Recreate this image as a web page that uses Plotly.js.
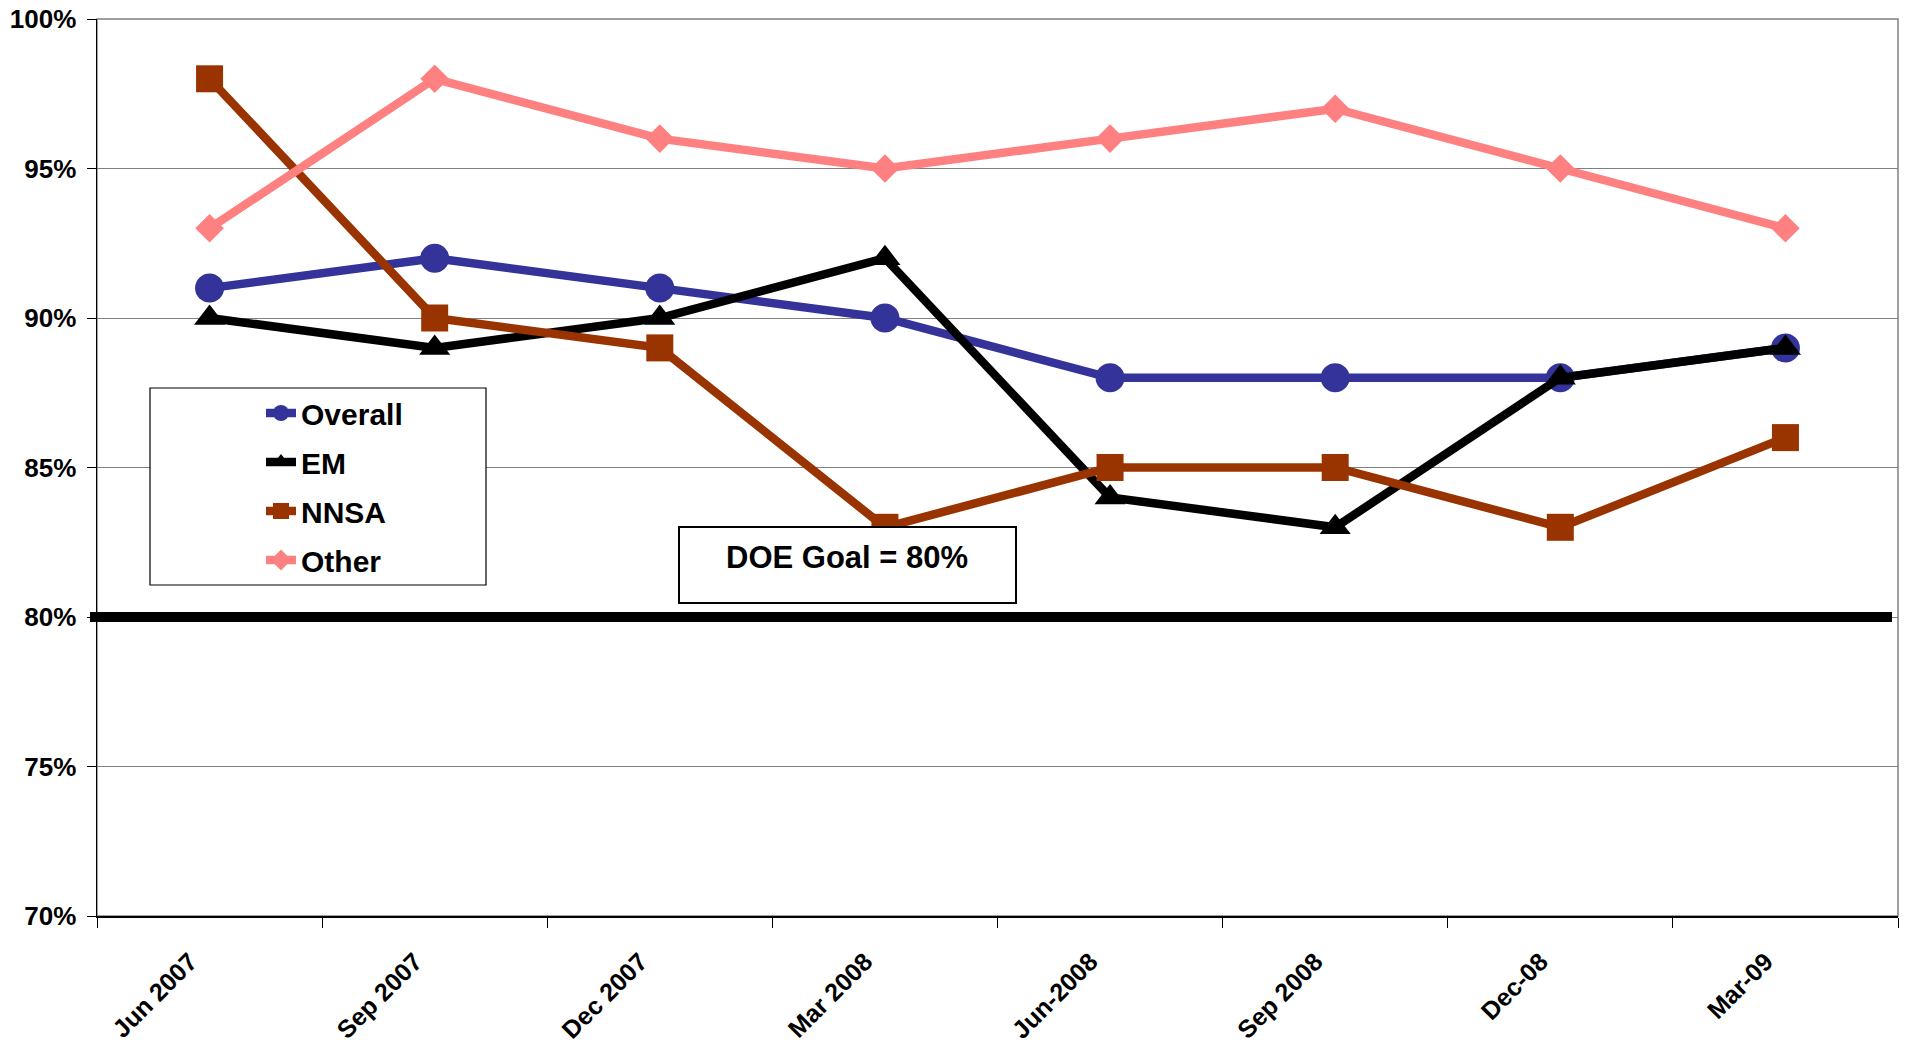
<!DOCTYPE html>
<html>
<head>
<meta charset="utf-8">
<script src="https://cdn.plot.ly/plotly-3.0.1.min.js"></script>
<style>html,body{margin:0;padding:0;background:#fff;}#chart{width:1905px;height:1043px;}</style>
</head>
<body>
<div id="chart"></div>
<script>
const categories = ["Jun 2007", "Sep 2007", "Dec 2007", "Mar 2008", "Jun-2008", "Sep 2008", "Dec-08", "Mar-09"];
const overall = [91, 92, 91, 90, 88, 88, 88, 89];
const em      = [90, 89, 90, 92, 84, 83, 88, 89];
const nnsa    = [98, 90, 89, 83, 85, 85, 83, 86];
const other   = [93, 98, 96, 95, 96, 97, 95, 93];
const goal = 80;
const yTicks = [70, 75, 80, 85, 90, 95, 100];

const FONT = "Liberation Sans, Arial, sans-serif";
const W = 1905, H = 1043;
const L = 97, R = 7, T = 19, B = 127;
const pw = W - L - R, ph = H - T - B;
const px = x => (x - L) / pw;
const py = y => (H - B - y) / ph;

function tr(name, y, color, symbol, size, group) {
  return {
    type: "scatter", mode: "lines+markers", name: name, x: categories, y: y,
    line: {color: color, width: 8.5},
    marker: {color: color, symbol: symbol, size: size},
    legendgroup: group
  };
}
const data = [
  tr("Overall", overall, "#333399", "circle", 29, "a"),
  tr("EM", em, "#000000", "triangle-up", 27, "b"),
  tr("NNSA", nnsa, "#993300", "square", 27, "c"),
  tr("Other", other, "#FF8080", "diamond", 22, "d")
];

const layout = {
  width: W, height: H,
  margin: {l: L, r: R, t: T, b: B, pad: 0},
  paper_bgcolor: "#fff", plot_bgcolor: "#fff",
  font: {family: FONT, color: "#000", weight: "bold"},
  showlegend: true,
  legend: {
    x: px(261), xanchor: "left", y: py(387), yanchor: "top",
    bgcolor: "rgba(0,0,0,0)", borderwidth: 0,
    font: {family: FONT, size: 30, weight: "bold", color: "#000"},
    traceorder: "grouped", tracegroupgap: 7
  },
  xaxis: {
    type: "category", range: [-0.5, 7.5], tickson: "boundaries",
    tickvals: categories, ticktext: categories.map(c => c + "\u00a0\u00a0\u00a0\u00a0"),
    ticks: "outside", ticklen: 10, tickcolor: "#000", tickwidth: 1,
    showline: true, linecolor: "#000", linewidth: 1.5,
    showgrid: false, zeroline: false, tickangle: -45,
    tickfont: {family: FONT, size: 25, weight: "bold", color: "#000"},
    fixedrange: true
  },
  yaxis: {
    range: [70, 100], tickvals: yTicks, ticktext: yTicks.map(v => v + "%"),
    ticks: "outside", ticklen: 9, tickcolor: "#000", tickwidth: 1,
    showline: true, linecolor: "#000", linewidth: 1.5,
    showgrid: true, gridcolor: "#808080", gridwidth: 1, zeroline: false,
    tickfont: {family: FONT, size: 26, weight: "bold", color: "#000"},
    ticklabelstandoff: 5,
    fixedrange: true
  },
  shapes: [
    {type: "rect", xref: "paper", yref: "paper", x0: 0, x1: 1, y0: 0, y1: 1,
     line: {color: "#808080", width: 1.5}, layer: "below"},
    {type: "line", xref: "paper", yref: "y", x0: px(90), x1: px(1892), y0: goal, y1: goal,
     line: {color: "#000", width: 10}, layer: "above"},
    {type: "rect", xref: "paper", yref: "paper", x0: px(150), x1: px(486), y0: py(388), y1: py(585),
     line: {color: "#000", width: 1.2}, fillcolor: "#fff", layer: "above"},
    {type: "rect", xref: "paper", yref: "paper", x0: px(679), x1: px(1016), y0: py(527), y1: py(603),
     line: {color: "#000", width: 2}, fillcolor: "#fff", layer: "above"}
  ],
  annotations: [
    {xref: "paper", yref: "paper", x: px(847), y: py(557), xanchor: "center", yanchor: "middle",
     text: "DOE Goal = " + goal + "%", showarrow: false,
     font: {family: FONT, size: 31, weight: "bold", color: "#000"}}
  ]
};

Plotly.newPlot("chart", data, layout, {displayModeBar: false, staticPlot: true});
</script>
</body>
</html>
